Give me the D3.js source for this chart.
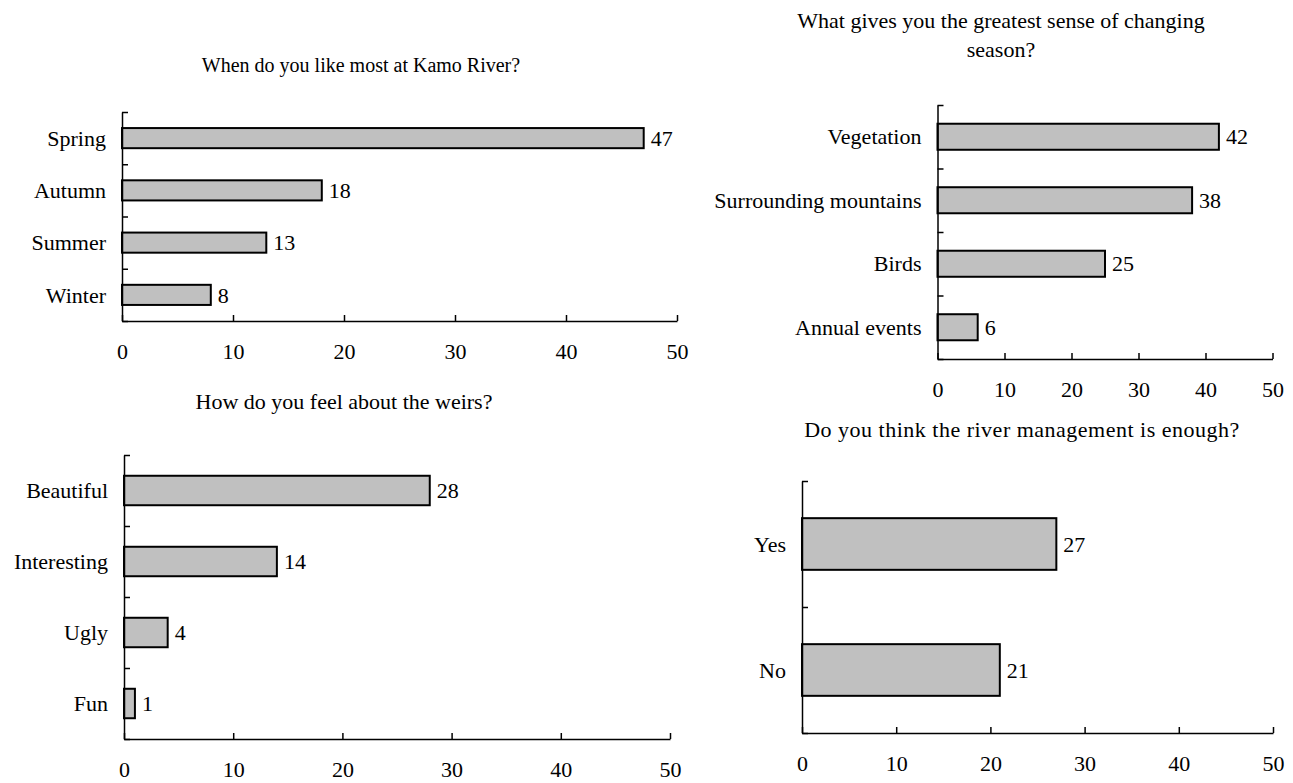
<!DOCTYPE html>
<html>
<head>
<meta charset="utf-8">
<script src="https://cdn.jsdelivr.net/npm/d3@7"></script>
<style>
  html, body { margin: 0; padding: 0; background: #ffffff; }
  svg { display: block; }
  text { font-family: "Liberation Serif", "Times New Roman", serif; fill: #000; }
</style>
</head>
<body>
<svg id="chart" width="1293" height="783"></svg>
<script>
// ---- Data ----
const q1Title = ["When do you like most at Kamo River?"];
const q1Categories = ["Spring", "Autumn", "Summer", "Winter"];
const q1Values = [47, 18, 13, 8];

const q2Title = ["What gives you the greatest sense of changing", "season?"];
const q2Categories = ["Vegetation", "Surrounding mountains", "Birds", "Annual events"];
const q2Values = [42, 38, 25, 6];

const q3Title = ["How do you feel about the weirs?"];
const q3Categories = ["Beautiful", "Interesting", "Ugly", "Fun"];
const q3Values = [28, 14, 4, 1];

const q4Title = ["Do you think the river management is enough?"];
const q4Categories = ["Yes", "No"];
const q4Values = [27, 21];

const xTickValues = [0, 10, 20, 30, 40, 50];
const xDomain = [0, 50];

// ---- Layout (pixels) ----
const panels = [
  { title: q1Title, cats: q1Categories, vals: q1Values,
    x0: 122, x1: 677, y0: 112, y1: 321, barRatio: 0.385,
    titleX: 361, titleY: 72, titleSize: 20, titleSpacing: 0 },
  { title: q2Title, cats: q2Categories, vals: q2Values,
    x0: 937.5, x1: 1272.5, y0: 105, y1: 359, barRatio: 0.41,
    titleX: 1001, titleY: 28, titleSize: 22, titleSpacing: 0 },
  { title: q3Title, cats: q3Categories, vals: q3Values,
    x0: 124, x1: 670, y0: 455, y1: 739, barRatio: 0.415,
    titleX: 344, titleY: 409, titleSize: 22, titleSpacing: 0 },
  { title: q4Title, cats: q4Categories, vals: q4Values,
    x0: 802, x1: 1273, y0: 481, y1: 733, barRatio: 0.41,
    titleX: 1022, titleY: 437, titleSize: 22, titleSpacing: 0.5 }
];

const FONT = 22;
const svg = d3.select("#chart");

panels.forEach(p => {
  const g = svg.append("g");
  const x = d3.scaleLinear().domain(xDomain).range([p.x0, p.x1]);
  const pad = 1 - p.barRatio;
  const y = d3.scaleBand().domain(p.cats).range([p.y0, p.y1])
    .paddingInner(pad).paddingOuter(pad / 2);
  const yB = d3.scaleLinear().domain([0, p.cats.length]).range([p.y0, p.y1]);

  // title
  const t = g.append("text")
    .attr("x", p.titleX).attr("y", p.titleY)
    .attr("text-anchor", "middle")
    .style("font-size", p.titleSize + "px")
    .style("letter-spacing", p.titleSpacing + "px");
  p.title.forEach((line, i) => {
    t.append("tspan").attr("x", p.titleX).attr("dy", i === 0 ? 0 : 29).text(line);
  });

  // bars
  g.selectAll("rect.bar").data(p.vals).enter().append("rect")
    .attr("class", "bar")
    .attr("x", x(0))
    .attr("y", (d, i) => y(p.cats[i]))
    .attr("width", d => x(d) - x(0))
    .attr("height", y.bandwidth())
    .attr("fill", "#c0c0c0")
    .attr("stroke", "#000")
    .attr("stroke-width", 2);

  // value labels
  g.selectAll("text.val").data(p.vals).enter().append("text")
    .attr("class", "val")
    .attr("x", d => x(d) + 7)
    .attr("y", (d, i) => y(p.cats[i]) + y.bandwidth() / 2)
    .attr("dy", "0.35em")
    .style("font-size", FONT + "px")
    .text(d => d);

  // category labels
  g.selectAll("text.cat").data(p.cats).enter().append("text")
    .attr("class", "cat")
    .attr("x", p.x0 - 16)
    .attr("y", d => y(d) + y.bandwidth() / 2)
    .attr("dy", "0.35em")
    .attr("text-anchor", "end")
    .style("font-size", FONT + "px")
    .text(d => d);

  // y axis (ticks at category boundaries, pointing inward)
  const yAxis = g.append("g")
    .attr("transform", `translate(${p.x0},0)`)
    .call(d3.axisRight(yB).tickValues(d3.range(p.cats.length + 1))
      .tickSizeInner(6).tickSizeOuter(0).tickFormat(() => ""));
  yAxis.selectAll("path, line").attr("stroke", "#000").attr("stroke-width", 1.5);

  // x axis (ticks pointing up)
  const xAxis = g.append("g")
    .attr("transform", `translate(0,${p.y1})`)
    .call(d3.axisBottom(x).tickValues(xTickValues)
      .tickSizeInner(-6).tickSizeOuter(0).tickPadding(22));
  xAxis.selectAll("path, line").attr("stroke", "#000").attr("stroke-width", 1.5);
  xAxis.selectAll("text")
    .style("font-size", FONT + "px")
    .style("font-family", "'Liberation Serif', 'Times New Roman', serif")
    .attr("fill", "#000");
});
</script>
</body>
</html>
